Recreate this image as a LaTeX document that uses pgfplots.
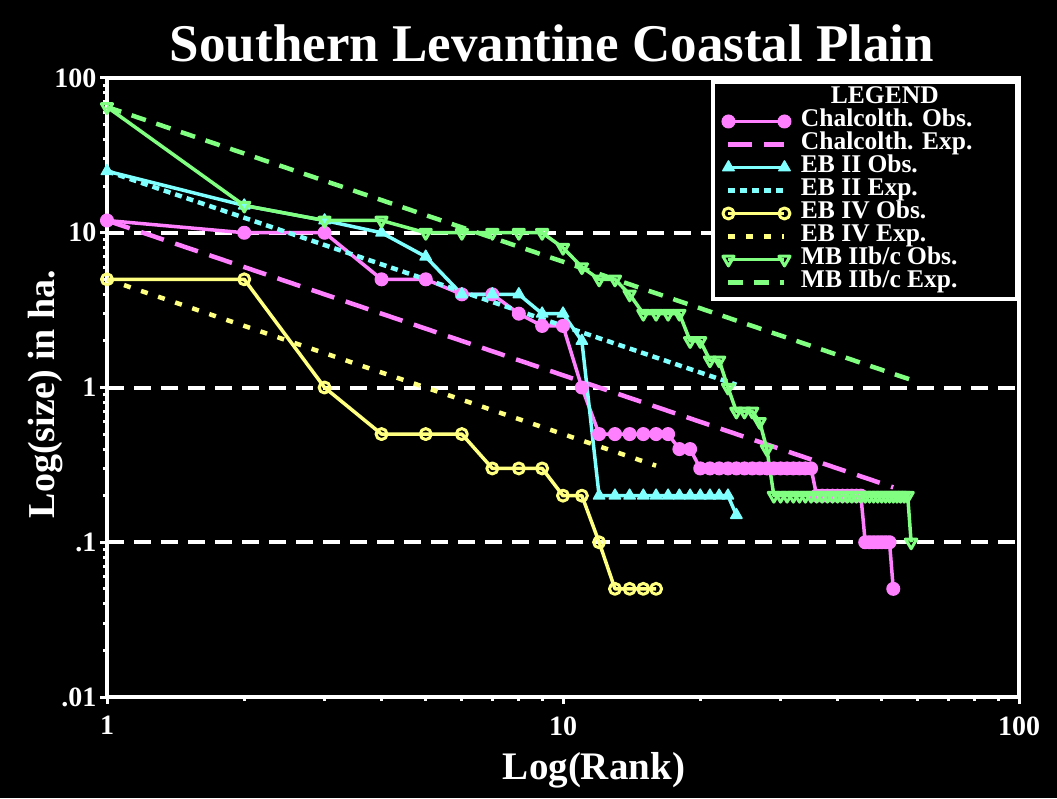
\documentclass[border=0pt]{standalone}
\usepackage{fontspec}
\setmainfont{Liberation Serif}
\usepackage{pgfplots}
\pgfplotsset{compat=1.18}
\definecolor{cpink}{RGB}{255,128,255}
\definecolor{ccyan}{RGB}{128,255,255}
\definecolor{cyel}{RGB}{255,255,128}
\definecolor{cgreen}{RGB}{128,255,128}
\begin{document}
\begin{tikzpicture}[x=1pt,y=1pt]
\fill[black] (0,0) rectangle (1057,798);
\useasboundingbox (0,0) rectangle (1057,798);
\begin{axis}[
  at={(107pt,101pt)}, anchor=south west,
  width=912pt, height=619pt, scale only axis,
  xmode=log, ymode=log, xmin=1, xmax=100, ymin=0.01, ymax=100,
  clip=false,
  axis line style={white, line width=3.5pt},
  xtick={1,10,100}, xticklabels={1,10,100},
  ytick={0.01,0.1,1,10,100}, yticklabels={.01,.1,1,10,100},
  minor xtick={2,3,4,5,6,7,8,9,20,30,40,50,60,70,80,90},
  minor ytick={0.02,0.03,0.04,0.05,0.06,0.07,0.08,0.09,0.2,0.3,0.4,0.5,0.6,0.7,0.8,0.9,2,3,4,5,6,7,8,9,20,30,40,50,60,70,80,90},
  tick pos=left, tick align=outside,
  major tick length=7pt, minor tick length=4pt,
  tick style={white, line width=3pt},
  ymajorgrids, major grid style={white, line width=4pt, dash pattern=on 17pt off 10pt},
  ticklabel style={white, font=\bfseries\fontsize{28}{28}\selectfont},
  xticklabel style={yshift=-9pt},
  /pgf/number format/assume math mode=true,
  legend cell align=left,
  legend style={at={(0.6743,0.9855)}, anchor=north west, draw=none, fill=none,
    inner sep=0pt, outer sep=0pt, text=white,
    font=\bfseries\fontsize{25.5}{23}\selectfont,
    nodes={inner sep=0pt, outer sep=0pt, text height=16.5pt, text depth=6.5pt},
    column sep=10pt, row sep=0pt},
  legend image code/.code={\draw[mark repeat=2,mark phase=1,#1] plot coordinates {(0pt,0pt) (28pt,0pt) (56pt,0pt)};},
]
\fill[black, draw=white, line width=3.5pt] (rel axis cs:0.6645,0.643) rectangle (rel axis cs:0.9978,0.9935);
\addlegendimage{empty legend}
\addlegendentry{\hspace*{30pt}LEGEND}
% Chalcolithic observed
\addplot[cpink, line width=3.5pt, line join=round, mark=*, mark size=6.5pt, mark options={solid, fill=cpink, line width=1pt}] coordinates {
(1,12)(2,10)(3,10)(4,5)(5,5)(6,4)(7,4)(8,3)(9,2.5)(10,2.5)(11,1)
(12,0.5)(13,0.5)(14,0.5)(15,0.5)(16,0.5)(17,0.5)(18,0.4)(19,0.4)
(20,0.3)(21,0.3)(22,0.3)(23,0.3)(24,0.3)(25,0.3)(26,0.3)(27,0.3)(28,0.3)(29,0.3)(30,0.3)(31,0.3)(32,0.3)(33,0.3)(34,0.3)(35,0.3)
(36,0.2)(37,0.2)(38,0.2)(39,0.2)(40,0.2)(41,0.2)(42,0.2)(43,0.2)(44,0.2)(45,0.2)
(46,0.1)(47,0.1)(48,0.1)(49,0.1)(50,0.1)(51,0.1)(52,0.1)(53,0.05)};
\addlegendentry{Chalcolth. Obs.}
\addplot[cpink, line width=4.5pt, dash pattern=on 24pt off 12pt] coordinates {(1,12)(53,0.2264)};
\addlegendentry{Chalcolth. Exp.}
% EB II observed
\addplot[ccyan, line width=3.5pt, line join=round, mark=triangle*, mark size=6.5pt, mark options={solid, fill=ccyan, line width=1.5pt}] coordinates {
(1,25)(2,15)(3,12)(4,10)(5,7)(6,4)(7,4)(8,4)(9,3)(10,3)(11,2)
(12,0.2)(13,0.2)(14,0.2)(15,0.2)(16,0.2)(17,0.2)(18,0.2)(19,0.2)(20,0.2)(21,0.2)(22,0.2)(23,0.2)(24,0.15)};
\addlegendentry{EB II Obs.}
\addplot[ccyan, line width=4.5pt, dash pattern=on 7pt off 5pt] coordinates {(1,25)(24,1.0417)};
\addlegendentry{EB II Exp.}
% EB IV observed
\addplot[cyel, line width=3.5pt, line join=round, mark=o, mark size=5.5pt, mark options={solid, line width=3pt}] coordinates {
(1,5)(2,5)(3,1)(4,0.5)(5,0.5)(6,0.5)(7,0.3)(8,0.3)(9,0.3)(10,0.2)(11,0.2)(12,0.1)(13,0.05)(14,0.05)(15,0.05)(16,0.05)};
\addlegendentry{EB IV Obs.}
\addplot[cyel, line width=4.5pt, dash pattern=on 7pt off 11pt] coordinates {(1,5)(16,0.3125)};
\addlegendentry{EB IV Exp.}
% MB IIb/c observed
\addplot[cgreen, line width=3.5pt, line join=round, mark=triangle, mark size=6.5pt, mark options={solid, rotate=180, line width=3pt}] coordinates {
(1,65)(2,15)(3,12)(4,12)(5,10)(6,10)(7,10)(8,10)(9,10)(10,8)(11,6)(12,5)(13,5)(14,4)
(15,3)(16,3)(17,3)(18,3)(19,2)(20,2)(21,1.5)(22,1.5)(23,1)(24,0.7)(25,0.7)(26,0.7)(27,0.6)(28,0.4)
(29,0.2)(30,0.2)(31,0.2)(32,0.2)(33,0.2)(34,0.2)(35,0.2)(36,0.2)(37,0.2)(38,0.2)(39,0.2)(40,0.2)
(41,0.2)(42,0.2)(43,0.2)(44,0.2)(45,0.2)(46,0.2)(47,0.2)(48,0.2)(49,0.2)(50,0.2)(51,0.2)(52,0.2)
(53,0.2)(54,0.2)(55,0.2)(56,0.2)(57,0.2)(58,0.1)};
\addlegendentry{MB IIb/c Obs.}
\addplot[cgreen, line width=4.5pt, dash pattern=on 15pt off 11pt] coordinates {(1,65)(58,1.1207)};
\addlegendentry{MB IIb/c Exp.}
\end{axis}
\node[white, font=\bfseries\fontsize{53}{53}\selectfont, anchor=base] at (552,736) {Southern Levantine Coastal Plain};
\node[white, font=\bfseries\fontsize{39}{39}\selectfont, anchor=base] at (594,19) {Log(Rank)};
\node[white, font=\bfseries\fontsize{38}{38}\selectfont, anchor=base, rotate=90] at (54,404) {Log(size) in ha.};
\end{tikzpicture}
\end{document}
